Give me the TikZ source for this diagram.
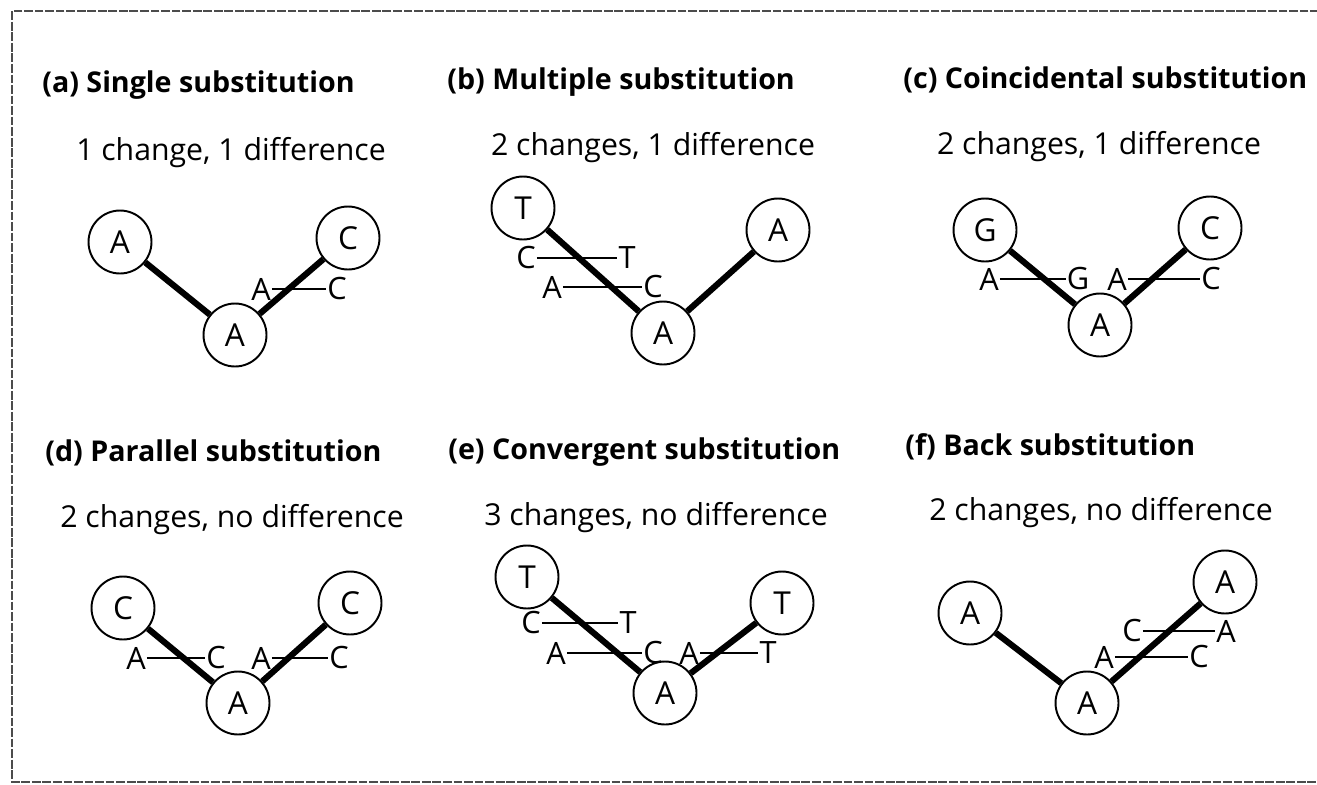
\documentclass[tikz,border=0pt]{standalone}
\usepackage{fontspec}
\setmainfont{Open Sans}

\tikzset{
  site/.style={circle, draw, line width=1.1pt, minimum size=1.26cm, inner sep=0pt,
    font=\fontsize{18}{21}\selectfont},
  branch/.style={line width=3.5pt},
  mut/.style={inner sep=0.4pt, font=\fontsize{17.5}{20}\selectfont},
  bar/.style={line width=1.6pt},
  heading/.style={anchor=west, inner sep=0pt, font=\bfseries\fontsize{16.3}{19}\selectfont},
  caption/.style={font=\fontsize{17.2}{20}\selectfont},
  frame/.style={black!70, line width=0.6pt, dash pattern=on 5pt off 1pt}
}

\begin{document}
\begin{tikzpicture}[x=0.02cm, y=-0.02cm]
\useasboundingbox (0,0) rectangle (1317,784);

% outer dashed frame
\draw[frame] (1340,11) -- (12,11) -- (12,782) -- (1340,782);

% (a) single substitution
\node[heading] (ta) at (42,85) {(a) Single substitution};
\node[caption] (ca) at (231,153) {1 change, 1 difference};
\node[site] (aL) at (120,242) {A};
\node[site] (aB) at (235,335) {A};
\node[site] (aR) at (348,238) {C};
\draw[branch] (aL) -- (aB);
\draw[branch] (aB) -- (aR);
\node[mut] (a1f) at (261,289) {A};
\node[mut] (a1t) at (337,289) {C};
\draw[bar] (a1f.east) -- (a1t.west);

% (b) multiple substitution
\node[heading] (tb) at (447,82) {(b) Multiple substitution};
\node[caption] (cb) at (653,148) {2 changes, 1 difference};
\node[site] (bL) at (523,208) {T};
\node[site] (bB) at (663,333) {A};
\node[site] (bR) at (778,230) {A};
\draw[branch] (bL) -- (bB);
\draw[branch] (bB) -- (bR);
\node[mut] (b1f) at (526,258) {C};
\node[mut] (b1t) at (627,258) {T};
\draw[bar] (b1f.east) -- (b1t.west);
\node[mut] (b2f) at (552,287) {A};
\node[mut] (b2t) at (653,287) {C};
\draw[bar] (b2f.east) -- (b2t.west);

% (c) coincidental substitution
\node[heading] (tc) at (903,80) {(c) Coincidental substitution};
\node[caption] (cc) at (1099,147) {2 changes, 1 difference};
\node[site] (cL) at (985,230) {G};
\node[site] (cB) at (1100,325) {A};
\node[site] (cR) at (1210,228) {C};
\draw[branch] (cL) -- (cB);
\draw[branch] (cB) -- (cR);
\node[mut] (c1f) at (989,279) {A};
\node[mut] (c1t) at (1078,279) {G};
\draw[bar] (c1f.east) -- (c1t.west);
\node[mut] (c2f) at (1117,279) {A};
\node[mut] (c2t) at (1211,279) {C};
\draw[bar] (c2f.east) -- (c2t.west);

% (d) parallel substitution
\node[heading] (td) at (45,453) {(d) Parallel substitution};
\node[caption] (cd) at (232,520) {2 changes, no difference};
\node[site] (dL) at (123,608) {C};
\node[site] (dB) at (238,703) {A};
\node[site] (dR) at (350,603) {C};
\draw[branch] (dL) -- (dB);
\draw[branch] (dB) -- (dR);
\node[mut] (d1f) at (136,658) {A};
\node[mut] (d1t) at (216,658) {C};
\draw[bar] (d1f.east) -- (d1t.west);
\node[mut] (d2f) at (261,658) {A};
\node[mut] (d2t) at (339,658) {C};
\draw[bar] (d2f.east) -- (d2t.west);

% (e) convergent substitution
\node[heading] (te) at (448,452) {(e) Convergent substitution};
\node[caption] (ce) at (656,518) {3 changes, no difference};
\node[site] (eL) at (527,577) {T};
\node[site] (eB) at (665,693) {A};
\node[site] (eR) at (782,603) {T};
\draw[branch] (eL) -- (eB);
\draw[branch] (eB) -- (eR);
\node[mut] (e1f) at (531,623) {C};
\node[mut] (e1t) at (628,623) {T};
\draw[bar] (e1f.east) -- (e1t.west);
\node[mut] (e2f) at (556,653) {A};
\node[mut] (e2t) at (653,653) {C};
\draw[bar] (e2f.east) -- (e2t.west);
\node[mut] (e3f) at (689,653) {A};
\node[mut] (e3t) at (768,653) {T};
\draw[bar] (e3f.east) -- (e3t.west);

% (f) back substitution
\node[heading] (tf) at (905,447) {(f) Back substitution};
\node[caption] (cf) at (1101,513) {2 changes, no difference};
\node[site] (fL) at (970,613) {A};
\node[site] (fB) at (1087,703) {A};
\node[site] (fR) at (1225,582) {A};
\draw[branch] (fL) -- (fB);
\draw[branch] (fB) -- (fR);
\node[mut] (f1f) at (1132,631) {C};
\node[mut] (f1t) at (1226,631) {A};
\draw[bar] (f1f.east) -- (f1t.west);
\node[mut] (f2f) at (1104,657) {A};
\node[mut] (f2t) at (1199,657) {C};
\draw[bar] (f2f.east) -- (f2t.west);

\end{tikzpicture}
\end{document}
